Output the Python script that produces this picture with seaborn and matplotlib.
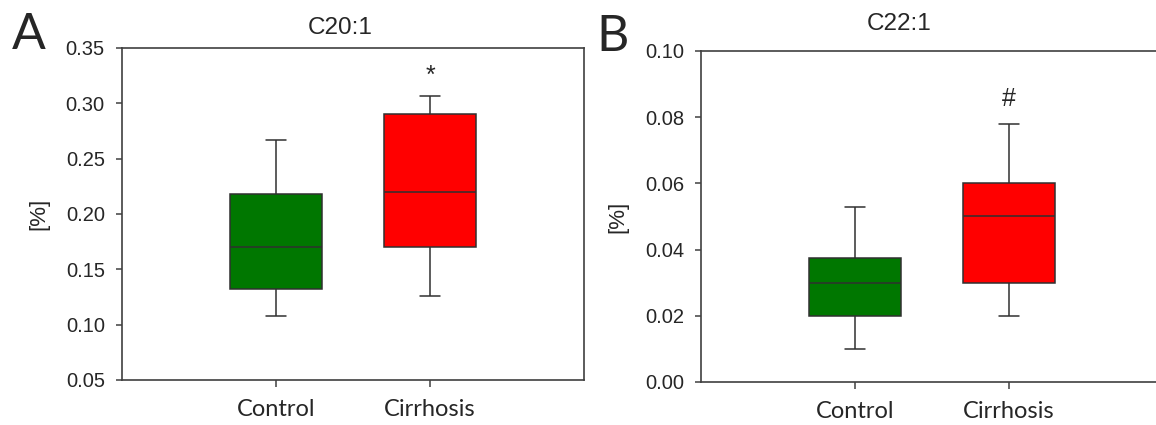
import matplotlib
matplotlib.use("Agg")
import matplotlib.pyplot as plt
import seaborn as sns
import pandas as pd

# Data: five-number summaries (min, Q1, median, Q3, max)
groups = ["Control", "Cirrhosis"]
c20_control = [0.108, 0.132, 0.170, 0.218, 0.267]
c20_cirrhosis = [0.126, 0.170, 0.220, 0.290, 0.307]
c22_control = [0.010, 0.020, 0.030, 0.0375, 0.053]
c22_cirrhosis = [0.020, 0.030, 0.050, 0.060, 0.078]
titles = ["C20:1", "C22:1"]
panel_letters = ["A", "B"]
marks = ["*", "#"]
mark_y = [0.325, 0.0855]
ylims = [(0.05, 0.35), (0.0, 0.10)]
yticks = [[0.05, 0.10, 0.15, 0.20, 0.25, 0.30, 0.35],
          [0.00, 0.02, 0.04, 0.06, 0.08, 0.10]]
colors = ["#007700", "#ff0000"]

sns.set_style("white")
plt.rcParams["font.family"] = ["Liberation Sans", "DejaVu Sans"]

fig = plt.figure(figsize=(11.56, 4.25), dpi=100)
axes = [fig.add_axes([0.1055, 0.1059, 0.3997, 0.7812]),
        fig.add_axes([0.6064, 0.1012, 0.3997, 0.7788])]
title_x = [0.472, 0.4286]
title_y = [0.934, 0.944]
letter_x = [0.010, 0.516]
letter_y = [0.918, 0.912]

datasets = [(c20_control, c20_cirrhosis), (c22_control, c22_cirrhosis)]
edge = "#303030"
for i, ax in enumerate(axes):
    ctrl, cirr = datasets[i]
    df = pd.DataFrame({
        "group": [groups[0]] * len(ctrl) + [groups[1]] * len(cirr),
        "value": ctrl + cirr,
    })
    sns.boxplot(data=df, x="group", y="value", hue="group", order=groups,
                hue_order=groups, palette=colors, saturation=1, whis=(0, 100),
                width=0.6, linecolor=edge, linewidth=1.1, legend=False, ax=ax,
                capwidths=0.125, showfliers=False)
    for p in ax.patches:
        p.set_edgecolor(edge)
    ax.set_xlim(-1.0, 2.0)
    ax.set_ylim(*ylims[i])
    ax.set_yticks(yticks[i])
    ax.set_yticklabels([f"{t:.2f}" for t in yticks[i]], fontsize=14.5)
    ax.set_xticks([0, 1])
    ax.set_xticklabels(groups, fontsize=17, family=["Lato", "DejaVu Sans"])
    ax.set_xlabel("")
    ax.set_ylabel("[%]", fontsize=16, labelpad=12)
    for s in ax.spines.values():
        s.set_color("#404040")
        s.set_linewidth(1.2)
    ax.tick_params(axis="x", direction="out", length=5, width=1.1,
                   color="#404040", bottom=True, pad=9)
    ax.tick_params(axis="y", direction="out", length=4.3, width=1.1,
                   color="#404040", left=True, pad=8)
    ax.text(1, mark_y[i], marks[i], ha="center", va="center", fontsize=18)
    fig.text(ax.get_position().x0 + title_x[i] * ax.get_position().width,
             title_y[i], titles[i], ha="center", va="center", fontsize=17.5)
    fig.text(letter_x[i], letter_y[i], panel_letters[i], fontsize=36,
             family=["Lato", "DejaVu Sans"], va="center", ha="left")

fig.savefig("out.png", dpi=100)
